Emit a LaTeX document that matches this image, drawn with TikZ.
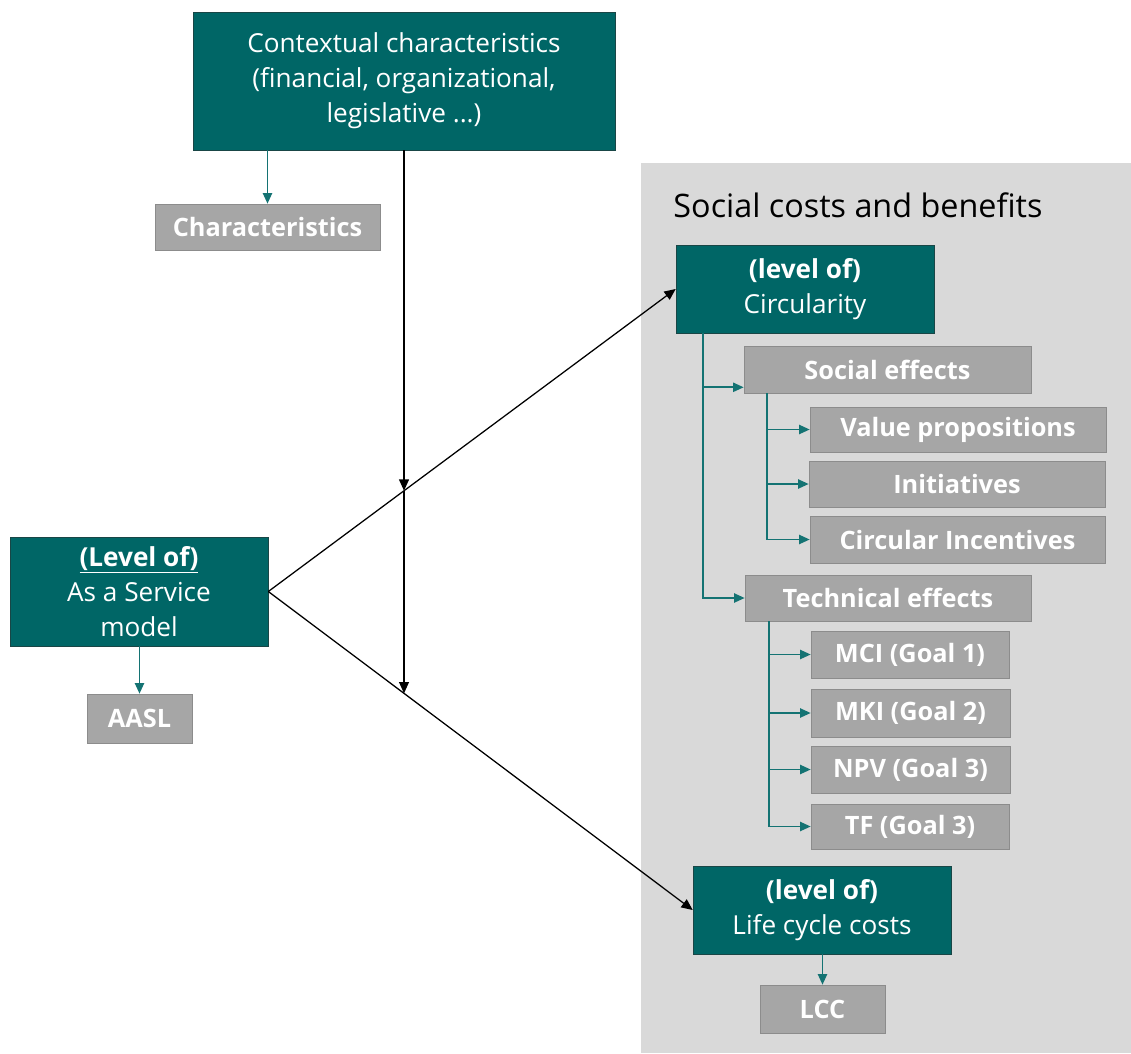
\documentclass[tikz,border=0pt]{standalone}
\usepackage{fontspec}
\setmainfont{Open Sans}
\usetikzlibrary{arrows.meta,calc,intersections}
\definecolor{deepteal}{RGB}{0, 102, 102}
\definecolor{tealedge}{RGB}{25, 70, 70}
\definecolor{tealline}{RGB}{20, 115, 115}
\definecolor{midgray}{RGB}{166, 166, 166}
\definecolor{grayedge}{RGB}{140, 140, 140}
\definecolor{panelgray}{RGB}{217, 217, 217}
\tikzset{
  levelbox/.style={draw=tealedge, fill=deepteal, text=white, align=center, inner sep=0pt, font=\fontsize{18.6}{25}\selectfont},
  itembox/.style={draw=grayedge, fill=midgray, text=white, inner sep=0pt, font=\fontsize{18}{22}\selectfont\bfseries},
  tealarrow/.style={draw=tealline, line width=1.2pt, -{Triangle[length=7.5pt,width=6.5pt]}},
  blackarrow/.style={draw=black, line width=0.9pt, -{Triangle[length=8pt,width=7pt]}}
}

\begin{document}
\begin{tikzpicture}[x=0.025cm, y=-0.025cm]
    \useasboundingbox (0,0) rectangle (1131,1053);
    \fill[panelgray] (641,163) rectangle (1131,1053);
    \node[font=\fontsize{23}{27}\selectfont]                               (ttl)  at (858.0, 205.0) {Social costs and benefits};
    \node[levelbox, minimum width=10.55cm, minimum height=3.45cm]          (ctx)  at (404.0,  81.0) {Contextual characteristics\\(financial, organizational,\\legislative ...)};
    \node[itembox,  minimum width=5.625cm, minimum height=1.15cm]          (chr)  at (267.5, 227.0) {Characteristics};
    \node[levelbox, minimum width=6.45cm,  minimum height=2.725cm]         (aas)  at (139.0, 591.5) {\underline{\textbf{(Level of)}}\\As a Service\\model};
    \node[itembox,  minimum width=2.625cm, minimum height=1.225cm]         (aasl) at (139.5, 718.5) {AASL};
    \node[levelbox, minimum width=6.45cm,  minimum height=2.2cm]           (circ) at (805.0, 289.0) {\textbf{(level of)}\\Circularity};
    \node[itembox,  minimum width=7.175cm, minimum height=1.175cm]         (soc)  at (887.5, 369.5) {Social effects};
    \node[itembox,  minimum width=7.4cm,   minimum height=1.125cm]         (val)  at (958.0, 429.5) {Value propositions};
    \node[itembox,  minimum width=7.4cm,   minimum height=1.15cm]          (ini)  at (957.0, 484.0) {Initiatives};
    \node[itembox,  minimum width=7.375cm, minimum height=1.175cm]         (cinc) at (957.5, 539.5) {Circular Incentives};
    \node[itembox,  minimum width=7.15cm,  minimum height=1.15cm]          (tec)  at (888.0, 598.0) {Technical effects};
    \node[itembox,  minimum width=4.95cm,  minimum height=1.175cm]         (mci)  at (910.0, 654.5) {MCI (Goal 1)};
    \node[itembox,  minimum width=4.975cm, minimum height=1.2cm]           (mki)  at (910.5, 713.0) {MKI (Goal 2)};
    \node[itembox,  minimum width=4.975cm, minimum height=1.175cm]         (npv)  at (910.5, 769.5) {NPV (Goal 3)};
    \node[itembox,  minimum width=4.95cm,  minimum height=1.125cm]         (tf)   at (910.0, 826.5) {TF (Goal 3)};
    \node[levelbox, minimum width=6.45cm,  minimum height=2.2cm]           (lcl)  at (822.0, 910.0) {\textbf{(level of)}\\Life cycle costs};
    \node[itembox,  minimum width=3.125cm, minimum height=1.2cm]           (lcc)  at (822.5,1009.0) {LCC};

    \draw[tealarrow] (chr.north |- ctx.south) -- (chr.north);
    \draw[tealarrow] (aasl.north |- aas.south) -- (aasl.north);
    \draw[tealarrow] (lcc.north |- lcl.south) -- (lcc.north);

    \path[name path=upper]   (aas.east)  -- (circ.west);
    \path[name path=lower]   (aas.east)  -- (lcl.west);
    \path[name path=ctxline] (ctx.south) -- (ctx.south |- lcl.south);
    \path[name intersections={of=ctxline and upper, by=m1}];
    \path[name intersections={of=ctxline and lower, by=m2}];
    \draw[blackarrow] (aas.east)  -- (circ.west);
    \draw[blackarrow] (aas.east)  -- (lcl.west);
    \draw[blackarrow] (ctx.south) -- (m1);
    \draw[blackarrow] (m1)        -- (m2);

    \draw[tealarrow] ($(circ.south west)+(27,0)$) coordinate (cj) |- (tec.west);
    \draw[tealarrow] (cj) |- ($(soc.south west)+(0,-6)$);
    \coordinate (sj) at ($(soc.south west)+(23,0)$);
    \coordinate (tj) at ($(tec.south west)+(24,0)$);
    \foreach \n in {val,ini,cinc}   \draw[tealarrow] (sj) |- (\n.west);
    \foreach \n in {mci,mki,npv,tf} \draw[tealarrow] (tj) |- (\n.west);
\end{tikzpicture}
\end{document}
